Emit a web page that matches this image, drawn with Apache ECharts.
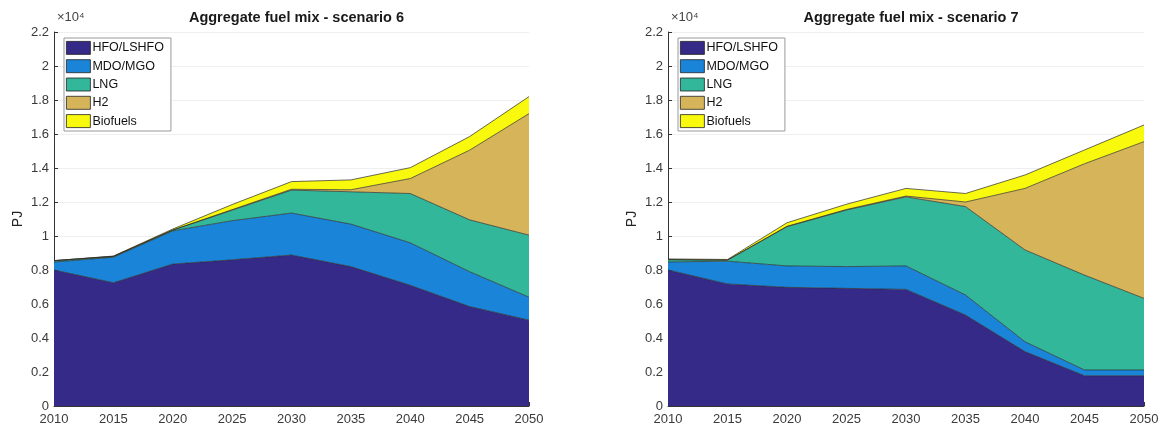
<!DOCTYPE html>
<html>
<head>
<meta charset="utf-8">
<script src="https://cdn.jsdelivr.net/npm/echarts@6/dist/echarts.min.js"></script>
<style>
html,body{margin:0;padding:0;background:#fff;}
#c{width:1162px;height:429px;}
</style>
</head>
<body>
<div id="c"></div>
<script>
const years = ['2010','2015','2020','2025','2030','2035','2040','2045','2050'];
const fuels = ['HFO/LSHFO','MDO/MGO','LNG','H2','Biofuels'];
const colors = ['#352a87','#1a84d8','#33b79b','#d6b55a','#f9f90e'];
const titles = ['Aggregate fuel mix - scenario 6','Aggregate fuel mix - scenario 7'];

// Scenario 6 (PJ)
const s6_hfo = [8000,7250,8350,8600,8880,8200,7100,5850,5050];
const s6_mdo = [470,1500,1950,2300,2470,2500,2500,2050,1350];
const s6_lng = [80,50,50,620,1350,1900,2900,3050,3650];
const s6_h2  = [0,0,0,30,50,120,880,4100,7150];
const s6_bio = [0,20,60,300,450,580,640,800,1000];

// Scenario 7 (PJ)
const s7_hfo = [8000,7180,6980,6920,6860,5350,3200,1780,1780];
const s7_mdo = [470,1340,1260,1280,1380,1180,580,340,340];
const s7_lng = [140,60,2310,3330,4060,5200,5400,5580,4210];
const s7_h2  = [0,0,20,30,50,270,3620,6550,9220];
const s7_bio = [40,40,210,310,450,500,790,810,980];

const scen = [
  [s6_hfo,s6_mdo,s6_lng,s6_h2,s6_bio],
  [s7_hfo,s7_mdo,s7_lng,s7_h2,s7_bio]
];

const grids = [
  {left:54, width:475, top:32, height:374},
  {left:668, width:476, top:32, height:374}
];

const chart = echarts.init(document.getElementById('c'));
const font = 'Liberation Sans, Arial, sans-serif';

const option = {
  animation:false,
  backgroundColor:'#fff',
  title: grids.map((g,i)=>({
    text: titles[i],
    left: g.left + g.width/2,
    textAlign:'center',
    top: 5,
    textStyle:{fontFamily:font,fontSize:14.5,fontWeight:'bold',color:'#1a1a1a'}
  })),
  grid: grids,
  xAxis: grids.map((g,i)=>({
    type:'category', gridIndex:i, data:years, boundaryGap:false,
    axisLine:{lineStyle:{color:'#333',width:1}},
    axisTick:{inside:true,length:4,lineStyle:{color:'#333'}},
    axisLabel:{fontFamily:font,fontSize:13,color:'#3a3a3a',margin:7,interval:0},
    splitLine:{show:false}
  })),
  yAxis: grids.map((g,i)=>({
    type:'value', gridIndex:i, min:0, max:22000, interval:2000,
    name:'PJ', nameLocation:'middle', nameGap:29, nameRotate:90,
    nameTextStyle:{fontFamily:font,fontSize:14,color:'#222'},
    axisLine:{show:true,lineStyle:{color:'#333',width:1}},
    axisTick:{show:true,inside:true,length:4,lineStyle:{color:'#333'}},
    axisLabel:{fontFamily:font,fontSize:13,color:'#3a3a3a',margin:5,
      formatter:v=>String(+(v/10000).toFixed(1))},
    splitLine:{show:true,lineStyle:{color:'#efefef',width:1}}
  })),
  legend: grids.map((g,i)=>({
    orient:'vertical',
    left: g.left + 10,
    top: 38,
    itemWidth:24, itemHeight:13, itemGap:4.5,
    padding:[3,7,3,2],
    borderColor:'#999', borderWidth:1,
    backgroundColor:'#fff',
    selectedMode:false,
    textStyle:{fontFamily:font,fontSize:12.5,color:'#111',padding:[0,0,0,-3]},
    data: fuels.map((f,k)=>({name:f, icon:'rect',
      itemStyle:{color:colors[k],borderColor:'#222',borderWidth:0.8}}))
  })),
  graphic: grids.map(g=>({
    type:'text', left:g.left+3, top:11,
    style:{text:'×10⁴', fontFamily:font, fontSize:13, fill:'#444'}
  })),
  series: []
};

scen.forEach((arrs,i)=>{
  arrs.forEach((vals,k)=>{
    option.series.push({
      type:'line', name:fuels[k], xAxisIndex:i, yAxisIndex:i,
      stack:'s'+i, data:vals, symbol:'none', smooth:false,
      lineStyle:{color:'#2a2a2a',width:0.7},
      itemStyle:{color:colors[k]},
      areaStyle:{color:colors[k],opacity:1},
      z:2
    });
  });
});

chart.setOption(option);
</script>
</body>
</html>
